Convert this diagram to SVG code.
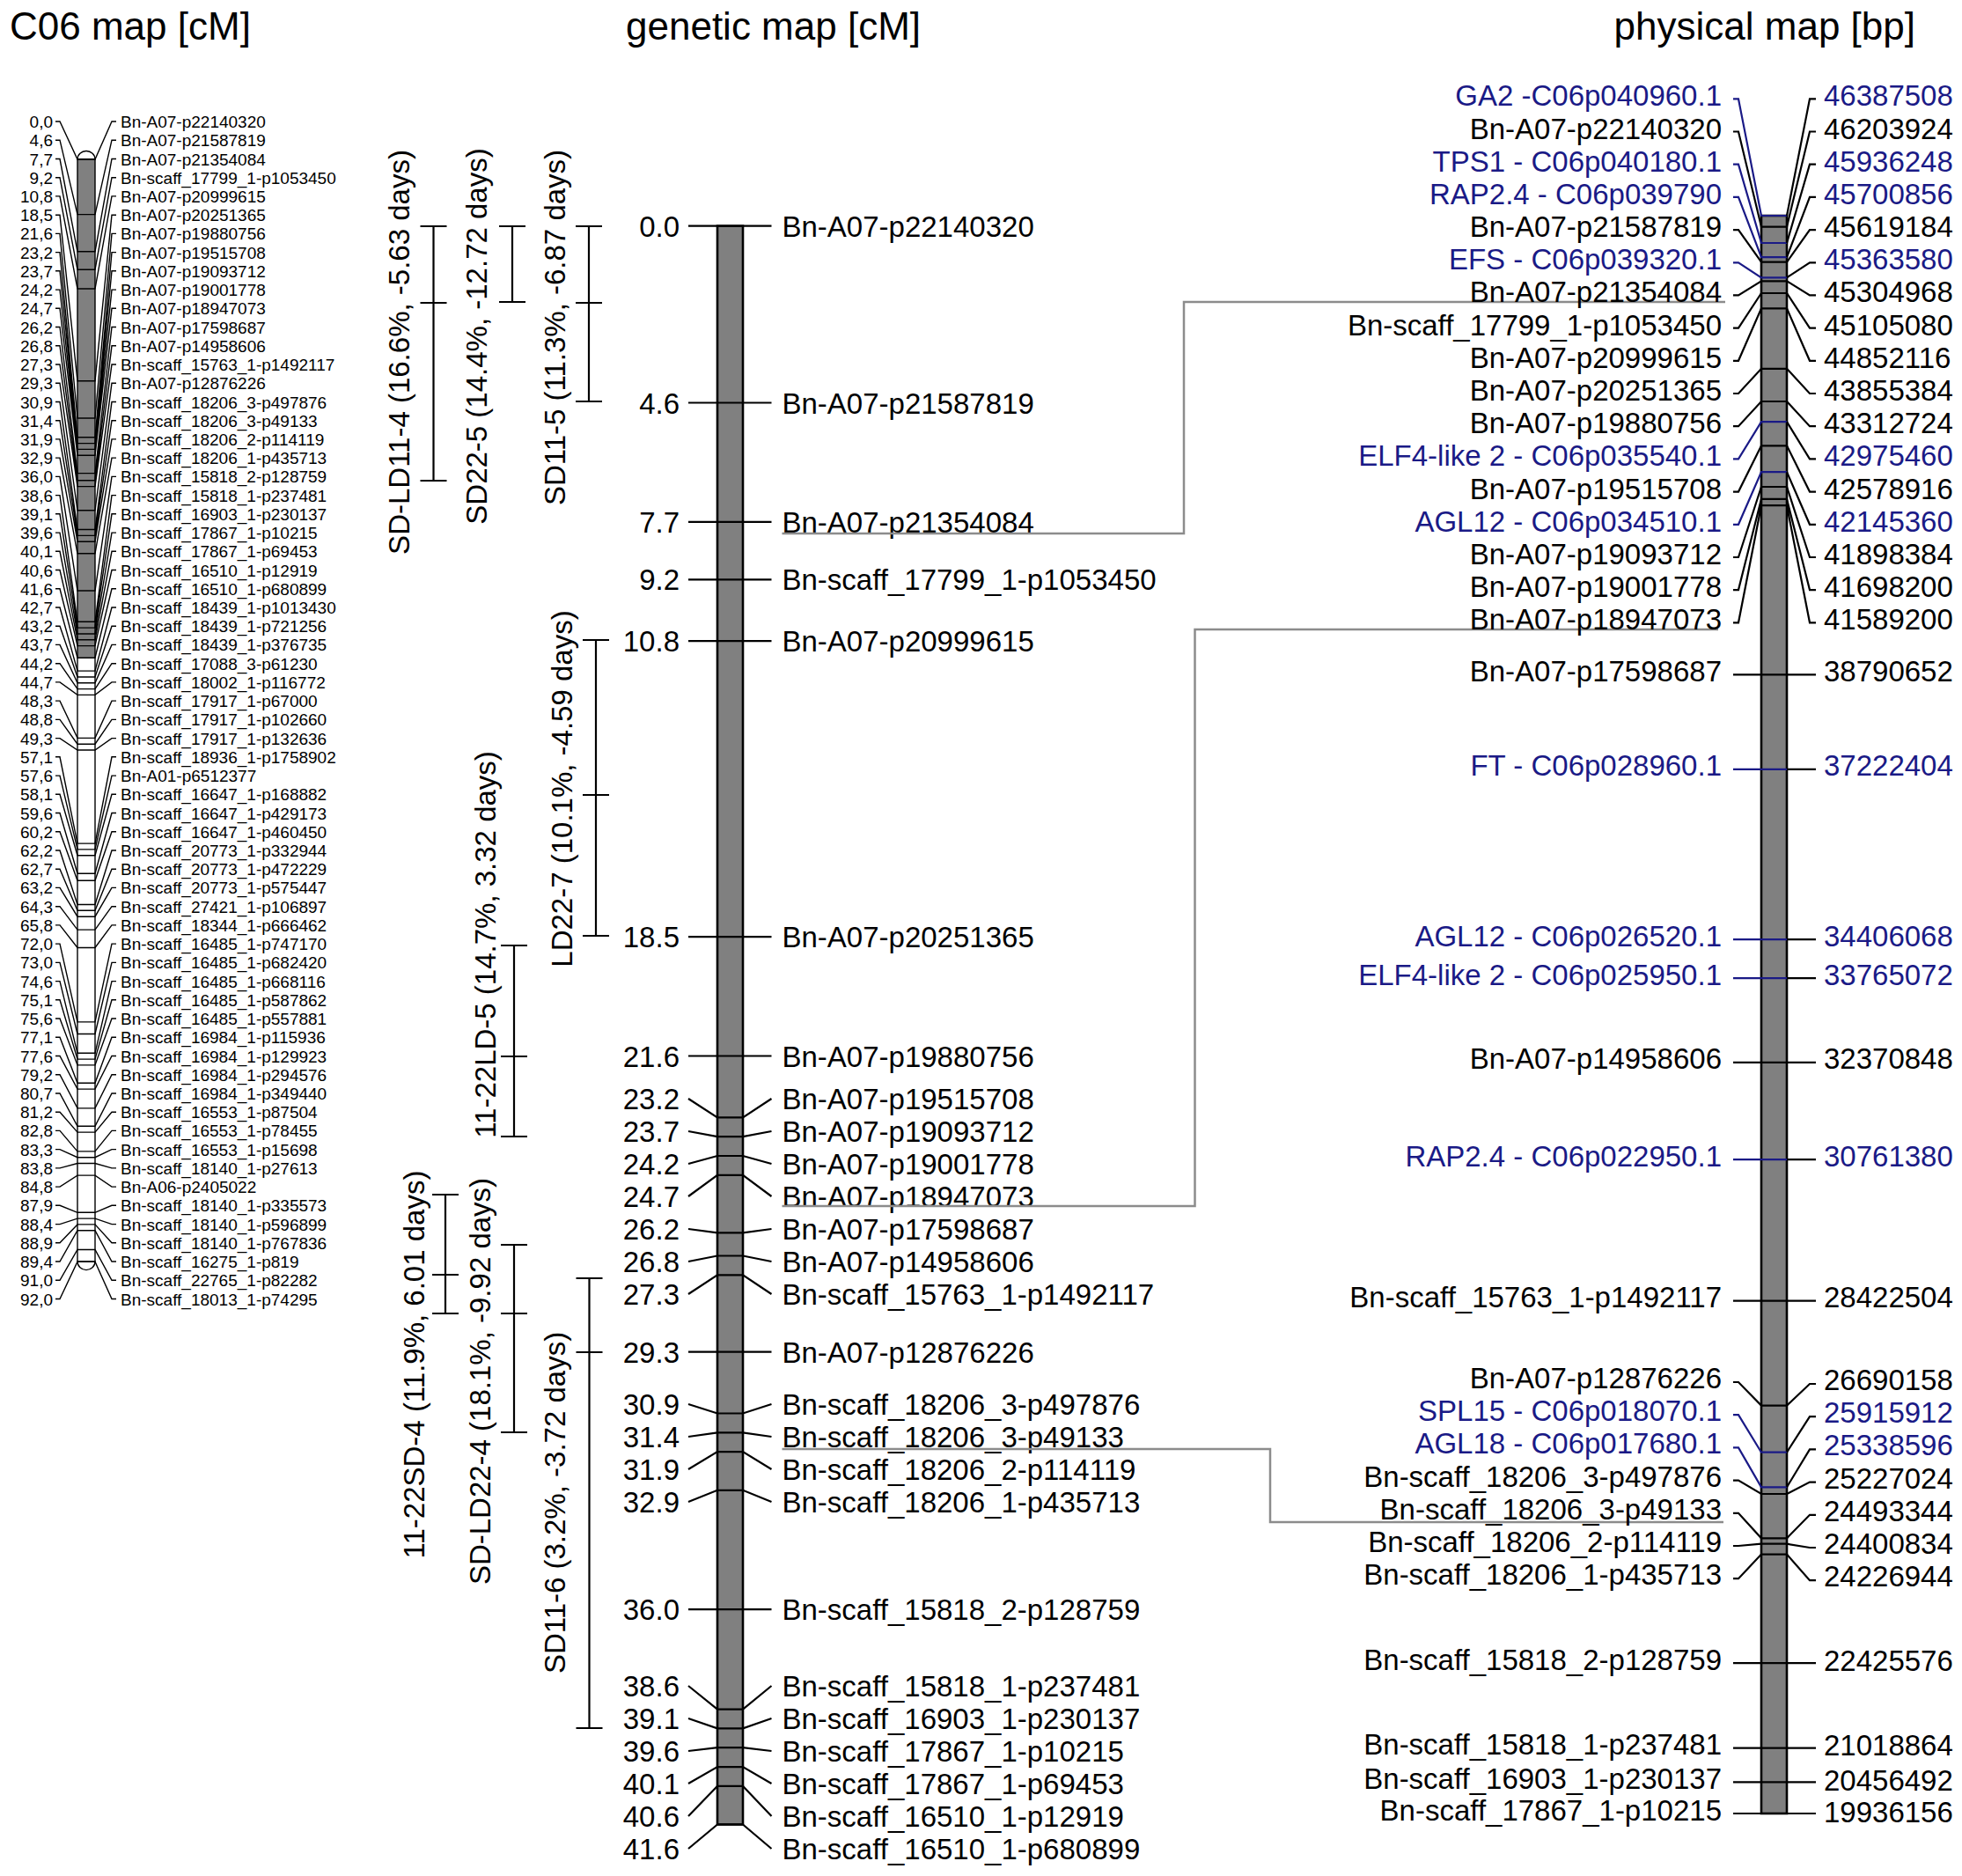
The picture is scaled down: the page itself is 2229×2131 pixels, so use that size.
<svg xmlns="http://www.w3.org/2000/svg" width="2229" height="2131" viewBox="0 0 2229 2131">
<style>
text{font-family:"Liberation Sans",Arial,sans-serif;fill:#000}
.f19{font-size:19px}
.f33{font-size:33px}
.f43{font-size:44px}
.e{text-anchor:end}
.m{text-anchor:middle}
.b{fill:#1a1a86}
.k1{stroke:#000;stroke-width:1.4;fill:none}
.k2{stroke:#000;stroke-width:2.2;fill:none}
.kb{stroke:#1a1a86;stroke-width:2.2;fill:none}
.gr{stroke:#8c8c8c;stroke-width:2.5;fill:none}
.chr{fill:#808080;stroke:#000;stroke-width:2.6}
</style>
<rect width="2229" height="2131" fill="#fff"/>
<g id="titles">
<text class="f43" x="11" y="45">C06 map [cM]</text>
<text class="f43" x="711" y="45">genetic map [cM]</text>
<text class="f43 e" x="2176" y="45">physical map [bp]</text>
</g>
<g id="c06-map">
<path d="M88,181 A10,9.5 0 0 1 108,181 Z" fill="#fff" stroke="#000" stroke-width="1.4"/>
<rect x="88" y="181" width="20" height="566.2" fill="#808080"/>
<rect x="88" y="747.2" width="20" height="685.9" fill="#fff"/>
<rect x="88" y="181" width="20" height="1252.1" fill="none" stroke="#000" stroke-width="1.4"/>
<path d="M88,1433.1 A10,9.5 0 0 0 108,1433.1 Z" fill="#fff" stroke="#000" stroke-width="1.4"/>
<path class="k1" d="M63,138H68L88,181H108L127,138H132M63,159.2H68L88,243.6H108L127,159.2H132M63,180.5H68L88,285.8H108L127,180.5H132M63,201.7H68L88,306.2H108L127,201.7H132M63,222.9H68L88,328H108L127,222.9H132M63,244.2H68L88,432.8H108L127,244.2H132M63,265.4H68L88,475H108L127,265.4H132M63,286.6H68L88,496.8H108L127,286.6H132M63,307.8H68L88,503.6H108L127,307.8H132M63,329.1H68L88,510.4H108L127,329.1H132M63,350.3H68L88,517.2H108L127,350.3H132M63,371.5H68L88,537.6H108L127,371.5H132M63,392.8H68L88,545.7H108L127,392.8H132M63,414H68L88,552.6H108L127,414H132M63,435.2H68L88,579.8H108L127,435.2H132M63,456.5H68L88,601.5H108L127,456.5H132M63,477.7H68L88,608.4H108L127,477.7H132M63,498.9H68L88,615.2H108L127,498.9H132M63,520.1H68L88,628.8H108L127,520.1H132M63,541.4H68L88,671H108L127,541.4H132M63,562.6H68L88,706.3H108L127,562.6H132M63,583.8H68L88,713.1H108L127,583.8H132M63,605.1H68L88,720H108L127,605.1H132M63,626.3H68L88,726.8H108L127,626.3H132M63,647.5H68L88,733.6H108L127,647.5H132M63,668.8H68L88,747.2H108L127,668.8H132M63,690H68L88,762.1H108L127,690H132M63,711.2H68L88,769H108L127,711.2H132M63,732.4H68L88,775.8H108L127,732.4H132M63,753.7H68L88,782.6H108L127,753.7H132M63,774.9H68L88,789.4H108L127,774.9H132M63,796.1H68L88,838.4H108L127,796.1H132M63,817.4H68L88,845.2H108L127,817.4H132M63,838.6H68L88,852H108L127,838.6H132M63,859.8H68L88,958.1H108L127,859.8H132M63,881.1H68L88,964.9H108L127,881.1H132M63,902.3H68L88,971.7H108L127,902.3H132M63,923.5H68L88,992.2H108L127,923.5H132M63,944.7H68L88,1000.3H108L127,944.7H132M63,966H68L88,1027.5H108L127,966H132M63,987.2H68L88,1034.3H108L127,987.2H132M63,1008.4H68L88,1041.2H108L127,1008.4H132M63,1029.7H68L88,1056.1H108L127,1029.7H132M63,1050.9H68L88,1076.5H108L127,1050.9H132M63,1072.1H68L88,1160.9H108L127,1072.1H132M63,1093.4H68L88,1174.5H108L127,1093.4H132M63,1114.6H68L88,1196.3H108L127,1114.6H132M63,1135.8H68L88,1203.1H108L127,1135.8H132M63,1157H68L88,1209.9H108L127,1157H132M63,1178.3H68L88,1230.3H108L127,1178.3H132M63,1199.5H68L88,1237.1H108L127,1199.5H132M63,1220.7H68L88,1258.9H108L127,1220.7H132M63,1242H68L88,1279.3H108L127,1242H132M63,1263.2H68L88,1286.1H108L127,1263.2H132M63,1284.4H68L88,1307.9H108L127,1284.4H132M63,1305.6H68L88,1314.7H108L127,1305.6H132M63,1326.9H68L88,1321.5H108L127,1326.9H132M63,1348.1H68L88,1335.1H108L127,1348.1H132M63,1369.3H68L88,1377.3H108L127,1369.3H132M63,1390.6H68L88,1384.1H108L127,1390.6H132M63,1411.8H68L88,1390.9H108L127,1411.8H132M63,1433H68L88,1397.7H108L127,1433H132M63,1454.3H68L88,1419.5H108L127,1454.3H132M63,1475.5H68L88,1433.1H108L127,1475.5H132"/>
<g class="f19 e">
<text x="60" y="145">0,0</text><text x="60" y="166.2">4,6</text><text x="60" y="187.5">7,7</text><text x="60" y="208.7">9,2</text><text x="60" y="229.9">10,8</text><text x="60" y="251.2">18,5</text><text x="60" y="272.4">21,6</text><text x="60" y="293.6">23,2</text><text x="60" y="314.8">23,7</text><text x="60" y="336.1">24,2</text><text x="60" y="357.3">24,7</text><text x="60" y="378.5">26,2</text><text x="60" y="399.8">26,8</text><text x="60" y="421">27,3</text><text x="60" y="442.2">29,3</text><text x="60" y="463.5">30,9</text><text x="60" y="484.7">31,4</text><text x="60" y="505.9">31,9</text><text x="60" y="527.1">32,9</text><text x="60" y="548.4">36,0</text><text x="60" y="569.6">38,6</text><text x="60" y="590.8">39,1</text><text x="60" y="612.1">39,6</text><text x="60" y="633.3">40,1</text><text x="60" y="654.5">40,6</text><text x="60" y="675.8">41,6</text><text x="60" y="697">42,7</text><text x="60" y="718.2">43,2</text><text x="60" y="739.4">43,7</text><text x="60" y="760.7">44,2</text><text x="60" y="781.9">44,7</text><text x="60" y="803.1">48,3</text><text x="60" y="824.4">48,8</text><text x="60" y="845.6">49,3</text><text x="60" y="866.8">57,1</text><text x="60" y="888.1">57,6</text><text x="60" y="909.3">58,1</text><text x="60" y="930.5">59,6</text><text x="60" y="951.7">60,2</text><text x="60" y="973">62,2</text><text x="60" y="994.2">62,7</text><text x="60" y="1015.4">63,2</text><text x="60" y="1036.7">64,3</text><text x="60" y="1057.9">65,8</text><text x="60" y="1079.1">72,0</text><text x="60" y="1100.4">73,0</text><text x="60" y="1121.6">74,6</text><text x="60" y="1142.8">75,1</text><text x="60" y="1164">75,6</text><text x="60" y="1185.3">77,1</text><text x="60" y="1206.5">77,6</text><text x="60" y="1227.7">79,2</text><text x="60" y="1249">80,7</text><text x="60" y="1270.2">81,2</text><text x="60" y="1291.4">82,8</text><text x="60" y="1312.6">83,3</text><text x="60" y="1333.9">83,8</text><text x="60" y="1355.1">84,8</text><text x="60" y="1376.3">87,9</text><text x="60" y="1397.6">88,4</text><text x="60" y="1418.8">88,9</text><text x="60" y="1440">89,4</text><text x="60" y="1461.3">91,0</text><text x="60" y="1482.5">92,0</text>
</g>
<g class="f19">
<text x="137" y="145">Bn-A07-p22140320</text><text x="137" y="166.2">Bn-A07-p21587819</text><text x="137" y="187.5">Bn-A07-p21354084</text><text x="137" y="208.7">Bn-scaff_17799_1-p1053450</text><text x="137" y="229.9">Bn-A07-p20999615</text><text x="137" y="251.2">Bn-A07-p20251365</text><text x="137" y="272.4">Bn-A07-p19880756</text><text x="137" y="293.6">Bn-A07-p19515708</text><text x="137" y="314.8">Bn-A07-p19093712</text><text x="137" y="336.1">Bn-A07-p19001778</text><text x="137" y="357.3">Bn-A07-p18947073</text><text x="137" y="378.5">Bn-A07-p17598687</text><text x="137" y="399.8">Bn-A07-p14958606</text><text x="137" y="421">Bn-scaff_15763_1-p1492117</text><text x="137" y="442.2">Bn-A07-p12876226</text><text x="137" y="463.5">Bn-scaff_18206_3-p497876</text><text x="137" y="484.7">Bn-scaff_18206_3-p49133</text><text x="137" y="505.9">Bn-scaff_18206_2-p114119</text><text x="137" y="527.1">Bn-scaff_18206_1-p435713</text><text x="137" y="548.4">Bn-scaff_15818_2-p128759</text><text x="137" y="569.6">Bn-scaff_15818_1-p237481</text><text x="137" y="590.8">Bn-scaff_16903_1-p230137</text><text x="137" y="612.1">Bn-scaff_17867_1-p10215</text><text x="137" y="633.3">Bn-scaff_17867_1-p69453</text><text x="137" y="654.5">Bn-scaff_16510_1-p12919</text><text x="137" y="675.8">Bn-scaff_16510_1-p680899</text><text x="137" y="697">Bn-scaff_18439_1-p1013430</text><text x="137" y="718.2">Bn-scaff_18439_1-p721256</text><text x="137" y="739.4">Bn-scaff_18439_1-p376735</text><text x="137" y="760.7">Bn-scaff_17088_3-p61230</text><text x="137" y="781.9">Bn-scaff_18002_1-p116772</text><text x="137" y="803.1">Bn-scaff_17917_1-p67000</text><text x="137" y="824.4">Bn-scaff_17917_1-p102660</text><text x="137" y="845.6">Bn-scaff_17917_1-p132636</text><text x="137" y="866.8">Bn-scaff_18936_1-p1758902</text><text x="137" y="888.1">Bn-A01-p6512377</text><text x="137" y="909.3">Bn-scaff_16647_1-p168882</text><text x="137" y="930.5">Bn-scaff_16647_1-p429173</text><text x="137" y="951.7">Bn-scaff_16647_1-p460450</text><text x="137" y="973">Bn-scaff_20773_1-p332944</text><text x="137" y="994.2">Bn-scaff_20773_1-p472229</text><text x="137" y="1015.4">Bn-scaff_20773_1-p575447</text><text x="137" y="1036.7">Bn-scaff_27421_1-p106897</text><text x="137" y="1057.9">Bn-scaff_18344_1-p666462</text><text x="137" y="1079.1">Bn-scaff_16485_1-p747170</text><text x="137" y="1100.4">Bn-scaff_16485_1-p682420</text><text x="137" y="1121.6">Bn-scaff_16485_1-p668116</text><text x="137" y="1142.8">Bn-scaff_16485_1-p587862</text><text x="137" y="1164">Bn-scaff_16485_1-p557881</text><text x="137" y="1185.3">Bn-scaff_16984_1-p115936</text><text x="137" y="1206.5">Bn-scaff_16984_1-p129923</text><text x="137" y="1227.7">Bn-scaff_16984_1-p294576</text><text x="137" y="1249">Bn-scaff_16984_1-p349440</text><text x="137" y="1270.2">Bn-scaff_16553_1-p87504</text><text x="137" y="1291.4">Bn-scaff_16553_1-p78455</text><text x="137" y="1312.6">Bn-scaff_16553_1-p15698</text><text x="137" y="1333.9">Bn-scaff_18140_1-p27613</text><text x="137" y="1355.1">Bn-A06-p2405022</text><text x="137" y="1376.3">Bn-scaff_18140_1-p335573</text><text x="137" y="1397.6">Bn-scaff_18140_1-p596899</text><text x="137" y="1418.8">Bn-scaff_18140_1-p767836</text><text x="137" y="1440">Bn-scaff_16275_1-p819</text><text x="137" y="1461.3">Bn-scaff_22765_1-p82282</text><text x="137" y="1482.5">Bn-scaff_18013_1-p74295</text>
</g>
</g>
<g id="qtl-intervals">
<path class="k2" d="M492.5,257V546M477.5,257H507.5M477.5,344H507.5M477.5,546H507.5"/>
<path class="k2" d="M582,257V343M567,257H597M567,343H597"/>
<path class="k2" d="M669,257V456M654,257H684M654,344H684M654,456H684"/>
<path class="k2" d="M677,727V1063M662,727H692M662,903H692M662,1063H692"/>
<path class="k2" d="M584,1074V1291M569,1074H599M569,1200H599M569,1291H599"/>
<path class="k2" d="M506,1357V1492M491,1357H521M491,1448H521M491,1492H521"/>
<path class="k2" d="M584,1414V1627M569,1414H599M569,1492H599M569,1627H599"/>
<path class="k2" d="M669.5,1452V1963M654.5,1452H684.5M654.5,1536H684.5M654.5,1963H684.5"/>
<g class="f33 m">
<text transform="translate(465,400) rotate(-90)">SD-LD11-4 (16.6%, -5.63 days)</text>
<text transform="translate(553,382) rotate(-90)">SD22-5 (14.4%, -12.72 days)</text>
<text transform="translate(641.7,372) rotate(-90)">SD11-5 (11.3%, -6.87 days)</text>
<text transform="translate(650,896) rotate(-90)">LD22-7 (10.1%, -4.59 days)</text>
<text transform="translate(563,1073) rotate(-90)">11-22LD-5 (14.7%, 3.32 days)</text>
<text transform="translate(481.7,1550) rotate(-90)">11-22SD-4 (11.9%, 6.01 days)</text>
<text transform="translate(556.7,1569) rotate(-90)">SD-LD22-4 (18.1%, -9.92 days)</text>
<text transform="translate(641.7,1707) rotate(-90)">SD11-6 (3.2%, -3.72 days)</text>
</g>
</g>
<g id="genetic-map">
<rect class="chr" x="815" y="256.7" width="29" height="1815.8"/>
<path class="k2" d="M782,256.7L815,256.7H844L876.5,256.7M782,457.5L815,457.5H844L876.5,457.5M782,592.8L815,592.8H844L876.5,592.8M782,658.3L815,658.3H844L876.5,658.3M782,728.1L815,728.1H844L876.5,728.1M782,1064.2L815,1064.2H844L876.5,1064.2M782,1199.5L815,1199.5H844L876.5,1199.5M782,1248L815,1269.4H844L876.5,1248M782,1285L815,1291.2H844L876.5,1285M782,1322L815,1313H844L876.5,1322M782,1359L815,1334.9H844L876.5,1359M782,1396L815,1400.3H844L876.5,1396M782,1433L815,1426.5H844L876.5,1433M782,1470L815,1448.4H844L876.5,1470M782,1535.6L815,1535.6H844L876.5,1535.6M782,1595L815,1605.5H844L876.5,1595M782,1632L815,1627.3H844L876.5,1632M782,1669L815,1649.1H844L876.5,1669M782,1706L815,1692.8H844L876.5,1706M782,1828.1L815,1828.1H844L876.5,1828.1M782,1915L815,1941.6H844L876.5,1915M782,1952L815,1963.4H844L876.5,1952M782,1989L815,1985.2H844L876.5,1989M782,2026L815,2007.1H844L876.5,2026M782,2063L815,2028.9H844L876.5,2063M782,2100L815,2072.5H844L876.5,2100"/>
<g class="f33 e">
<text x="772" y="268.7">0.0</text><text x="772" y="469.5">4.6</text><text x="772" y="604.8">7.7</text><text x="772" y="670.3">9.2</text><text x="772" y="740.1">10.8</text><text x="772" y="1076.2">18.5</text><text x="772" y="1211.5">21.6</text><text x="772" y="1260">23.2</text><text x="772" y="1297">23.7</text><text x="772" y="1334">24.2</text><text x="772" y="1371">24.7</text><text x="772" y="1408">26.2</text><text x="772" y="1445">26.8</text><text x="772" y="1482">27.3</text><text x="772" y="1547.6">29.3</text><text x="772" y="1607">30.9</text><text x="772" y="1644">31.4</text><text x="772" y="1681">31.9</text><text x="772" y="1718">32.9</text><text x="772" y="1840.1">36.0</text><text x="772" y="1927">38.6</text><text x="772" y="1964">39.1</text><text x="772" y="2001">39.6</text><text x="772" y="2038">40.1</text><text x="772" y="2075">40.6</text><text x="772" y="2112">41.6</text>
</g>
<g class="f33">
<text x="888.5" y="268.7">Bn-A07-p22140320</text><text x="888.5" y="469.5">Bn-A07-p21587819</text><text x="888.5" y="604.8">Bn-A07-p21354084</text><text x="888.5" y="670.3">Bn-scaff_17799_1-p1053450</text><text x="888.5" y="740.1">Bn-A07-p20999615</text><text x="888.5" y="1076.2">Bn-A07-p20251365</text><text x="888.5" y="1211.5">Bn-A07-p19880756</text><text x="888.5" y="1260">Bn-A07-p19515708</text><text x="888.5" y="1297">Bn-A07-p19093712</text><text x="888.5" y="1334">Bn-A07-p19001778</text><text x="888.5" y="1371">Bn-A07-p18947073</text><text x="888.5" y="1408">Bn-A07-p17598687</text><text x="888.5" y="1445">Bn-A07-p14958606</text><text x="888.5" y="1482">Bn-scaff_15763_1-p1492117</text><text x="888.5" y="1547.6">Bn-A07-p12876226</text><text x="888.5" y="1607">Bn-scaff_18206_3-p497876</text><text x="888.5" y="1644">Bn-scaff_18206_3-p49133</text><text x="888.5" y="1681">Bn-scaff_18206_2-p114119</text><text x="888.5" y="1718">Bn-scaff_18206_1-p435713</text><text x="888.5" y="1840.1">Bn-scaff_15818_2-p128759</text><text x="888.5" y="1927">Bn-scaff_15818_1-p237481</text><text x="888.5" y="1964">Bn-scaff_16903_1-p230137</text><text x="888.5" y="2001">Bn-scaff_17867_1-p10215</text><text x="888.5" y="2038">Bn-scaff_17867_1-p69453</text><text x="888.5" y="2075">Bn-scaff_16510_1-p12919</text><text x="888.5" y="2112">Bn-scaff_16510_1-p680899</text>
</g>
</g>
<g id="connectors">
<path class="gr" d="M888.5,606H1345V343H1960"/>
<path class="gr" d="M888.5,1370H1357.5V715H1952"/>
<path class="gr" d="M888.5,1646H1443V1729H1958"/>
</g>
<g id="physical-map">
<rect class="chr" x="2001" y="245" width="29" height="1815"/>
<path class="k2" d="M1969,149.5H1975L2001,257.6H2030L2056,149.5H2063M1969,261.1H1975L2001,297.7H2030L2056,261.1H2063M1969,335.4H1975L2001,319.3H2030L2056,335.4H2063M1969,372.6H1975L2001,333H2030L2056,372.6H2063M1969,409.8H1975L2001,350.4H2030L2056,409.8H2063M1969,447H1975L2001,418.8H2030L2056,447H2063M1969,484.2H1975L2001,456H2030L2056,484.2H2063M1969,558.6H1975L2001,506.3H2030L2056,558.6H2063M1969,633H1975L2001,553H2030L2056,633H2063M1969,670.1H1975L2001,566.8H2030L2056,670.1H2063M1969,707.3H1975L2001,574.2H2030L2056,707.3H2063M1969,766.3H2063M1969,1206.8H2063M1969,1477.7H2063M1969,1570H1975L2001,1596.6H2030L2056,1572H2063M1969,1681.6H1975L2001,1697H2030L2056,1683.6H2063M1969,1718.8H1975L2001,1747.3H2030L2056,1720.8H2063M1969,1756H1975L2001,1753.7H2030L2056,1758H2063M1969,1793.2H1975L2001,1765.6H2030L2056,1795.2H2063M1969,1889.2H2063M1969,1985.7H2063M1969,2024.3H2063M1969,2060H2063"/>
<path class="kb" d="M1969,112.3H1975L2001,245H2030M1969,186.7H1975L2001,276H2030M1969,223.9H1975L2001,292.1H2030M1969,298.3H1975L2001,315.3H2030M1969,521.4H1975L2001,479.1H2030M1969,595.8H1975L2001,536.1H2030M1969,873.9H2030M1969,1067.1H2030M1969,1111.1H2030M1969,1317.2H2030M1969,1607.2H1975L2001,1649.7H2030M1969,1644.4H1975L2001,1689.3H2030"/>
<path class="k2" d="M2030,245L2056,112.3H2063M2030,276L2056,186.7H2063M2030,292.1L2056,223.9H2063M2030,315.3L2056,298.3H2063M2030,479.1L2056,521.4H2063M2030,536.1L2056,595.8H2063M2030,873.9H2063M2030,1067.1H2063M2030,1111.1H2063M2030,1317.2H2063M2030,1649.7L2056,1609.2H2063M2030,1689.3L2056,1646.4H2063"/>
<g class="f33 e">
<text class="b" x="1956" y="120.3">GA2 -C06p040960.1</text>
<text x="1956" y="157.5">Bn-A07-p22140320</text>
<text class="b" x="1956" y="194.7">TPS1 - C06p040180.1</text>
<text class="b" x="1956" y="231.9">RAP2.4 - C06p039790</text>
<text x="1956" y="269.1">Bn-A07-p21587819</text>
<text class="b" x="1956" y="306.3">EFS - C06p039320.1</text>
<text x="1956" y="343.4">Bn-A07-p21354084</text>
<text x="1956" y="380.6">Bn-scaff_17799_1-p1053450</text>
<text x="1956" y="417.8">Bn-A07-p20999615</text>
<text x="1956" y="455">Bn-A07-p20251365</text>
<text x="1956" y="492.2">Bn-A07-p19880756</text>
<text class="b" x="1956" y="529.4">ELF4-like 2 - C06p035540.1</text>
<text x="1956" y="566.6">Bn-A07-p19515708</text>
<text class="b" x="1956" y="603.8">AGL12 - C06p034510.1</text>
<text x="1956" y="641">Bn-A07-p19093712</text>
<text x="1956" y="678.1">Bn-A07-p19001778</text>
<text x="1956" y="715.3">Bn-A07-p18947073</text>
<text x="1956" y="773.8">Bn-A07-p17598687</text>
<text class="b" x="1956" y="881.4">FT - C06p028960.1</text>
<text class="b" x="1956" y="1074.6">AGL12 - C06p026520.1</text>
<text class="b" x="1956" y="1118.6">ELF4-like 2 - C06p025950.1</text>
<text x="1956" y="1214.3">Bn-A07-p14958606</text>
<text class="b" x="1956" y="1324.7">RAP2.4 - C06p022950.1</text>
<text x="1956" y="1485.2">Bn-scaff_15763_1-p1492117</text>
<text x="1956" y="1577">Bn-A07-p12876226</text>
<text class="b" x="1956" y="1614.2">SPL15 - C06p018070.1</text>
<text class="b" x="1956" y="1651.4">AGL18 - C06p017680.1</text>
<text x="1956" y="1688.6">Bn-scaff_18206_3-p497876</text>
<text x="1956" y="1725.8">Bn-scaff_18206_3-p49133</text>
<text x="1956" y="1763">Bn-scaff_18206_2-p114119</text>
<text x="1956" y="1800.2">Bn-scaff_18206_1-p435713</text>
<text x="1956" y="1896.7">Bn-scaff_15818_2-p128759</text>
<text x="1956" y="1993.2">Bn-scaff_15818_1-p237481</text>
<text x="1956" y="2031.8">Bn-scaff_16903_1-p230137</text>
<text x="1956" y="2067.5">Bn-scaff_17867_1-p10215</text>
</g>
<g class="f33">
<text class="b" x="2072" y="120.3">46387508</text>
<text x="2072" y="157.5">46203924</text>
<text class="b" x="2072" y="194.7">45936248</text>
<text class="b" x="2072" y="231.9">45700856</text>
<text x="2072" y="269.1">45619184</text>
<text class="b" x="2072" y="306.3">45363580</text>
<text x="2072" y="343.4">45304968</text>
<text x="2072" y="380.6">45105080</text>
<text x="2072" y="417.8">44852116</text>
<text x="2072" y="455">43855384</text>
<text x="2072" y="492.2">43312724</text>
<text class="b" x="2072" y="529.4">42975460</text>
<text x="2072" y="566.6">42578916</text>
<text class="b" x="2072" y="603.8">42145360</text>
<text x="2072" y="641">41898384</text>
<text x="2072" y="678.1">41698200</text>
<text x="2072" y="715.3">41589200</text>
<text x="2072" y="773.8">38790652</text>
<text class="b" x="2072" y="881.4">37222404</text>
<text class="b" x="2072" y="1074.6">34406068</text>
<text class="b" x="2072" y="1118.6">33765072</text>
<text x="2072" y="1214.3">32370848</text>
<text class="b" x="2072" y="1324.7">30761380</text>
<text x="2072" y="1485.2">28422504</text>
<text x="2072" y="1579">26690158</text>
<text class="b" x="2072" y="1616.2">25915912</text>
<text class="b" x="2072" y="1653.4">25338596</text>
<text x="2072" y="1690.6">25227024</text>
<text x="2072" y="1727.8">24493344</text>
<text x="2072" y="1765">24400834</text>
<text x="2072" y="1802.2">24226944</text>
<text x="2072" y="1897.7">22425576</text>
<text x="2072" y="1994.2">21018864</text>
<text x="2072" y="2033.8">20456492</text>
<text x="2072" y="2069.5">19936156</text>
</g>
</g>
</svg>
